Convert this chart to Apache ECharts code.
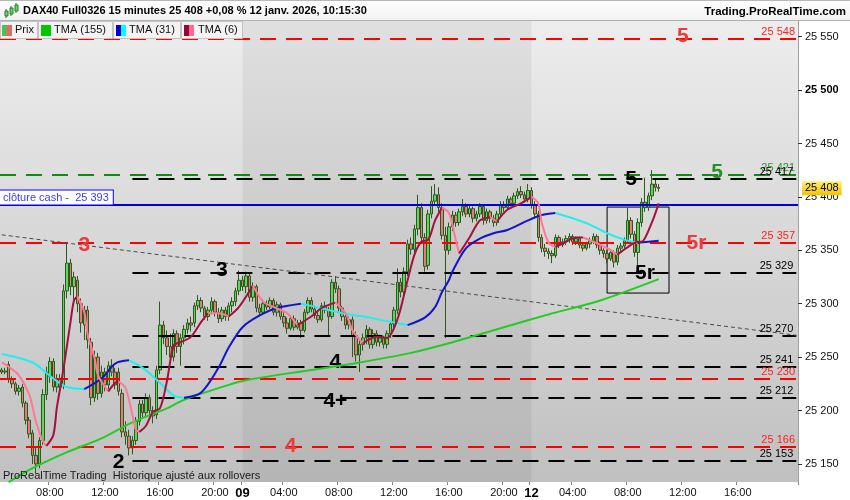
<!DOCTYPE html>
<html><head><meta charset="utf-8">
<script src="https://cdn.jsdelivr.net/npm/echarts@6.0.0/dist/echarts.min.js"></script>
<style>html,body{margin:0;padding:0;background:#fff}#c{width:850px;height:500px}</style>
</head><body><div id="c"></div>
<script>
// ---------- DATA ----------
const sessions = [['08','04:30','21:45'],['09','01:00','21:45'],['12','01:00','20:15']];
const tickLabels = ['08 08:00','08 12:00','08 16:00','08 20:00','09 01:00','09 04:00','09 08:00','09 12:00','09 16:00','09 20:00','12 01:00','12 04:00','12 08:00','12 12:00','12 16:00'];
const dayStarts = ['09 01:00','12 01:00'];
const yTicks = [25150,25200,25250,25300,25350,25400,25450,25500,25550];
const yMin = 25133.1, yMax = 25564.7;

// [open, close, low, high]
const jan8 = [
[25238,25236,25234,25240],[25236,25237,25234,25240],[25243,25229,25226,25246],[25229,25225,25221,25232],[25225,25218,25215,25227],
[25218,25221,25214,25224],[25222,25207,25203,25225],[25207,25191,25187,25209],[25191,25178,25174,25194],[25179,25158,25150,25182],
[25158,25150,25141,25166],[25150,25172,25146,25175],[25172,25215,25168,25220],[25215,25236,25210,25241],[25232,25246,25226,25250],
[25246,25222,25218,25249],[25222,25230,25217,25234],[25230,25222,25216,25234],[25224,25312,25220,25318],[25312,25338,25305,25357],
[25338,25316,25308,25342],[25316,25325,25302,25330],[25322,25300,25292,25326],[25300,25282,25273,25305],[25280,25294,25266,25298],
[25294,25266,25258,25298],[25264,25212,25205,25268],[25212,25250,25208,25256],[25250,25216,25210,25254],[25216,25236,25212,25242],
[25236,25224,25218,25240],[25224,25242,25220,25246],[25242,25236,25232,25248],[25236,25224,25220,25240],[25236,25218,25214,25240],
[25216,25180,25175,25220],[25180,25176,25168,25190],[25176,25165,25158,25182],[25165,25172,25159,25176],[25172,25190,25168,25194],
[25190,25206,25186,25210],[25206,25198,25194,25210],[25198,25212,25195,25216],[25212,25200,25196,25215],[25200,25195,25188,25204],
[25196,25238,25192,25242],[25238,25280,25234,25302],[25280,25268,25262,25284],[25268,25260,25252,25275],[25260,25250,25244,25272],
[25250,25272,25246,25276],[25272,25260,25254,25275],[25260,25268,25242,25272],[25268,25276,25262,25280],[25276,25282,25272,25286],
[25282,25280,25274,25288],[25282,25298,25278,25301],[25298,25303,25294,25308],[25303,25296,25292,25306],[25296,25288,25285,25298],
[25288,25294,25284,25297],[25294,25302,25290,25306],[25302,25292,25288,25304],[25292,25286,25282,25296],[25286,25294,25283,25297],
[25294,25288,25284,25297],[25288,25298,25284,25301],[25298,25302,25292,25306],[25302,25312,25298,25315],[25312,25322,25308,25331]
];
const jan9 = [
[25322,25316,25312,25326],[25316,25326,25310,25330],[25326,25306,25302,25328],[25306,25316,25302,25320],[25316,25296,25292,25318],
[25296,25292,25288,25300],[25292,25300,25290,25304],[25300,25297,25294,25303],[25297,25303,25295,25306],[25303,25292,25289,25305],
[25292,25299,25288,25302],[25299,25288,25285,25301],[25288,25282,25278,25292],[25282,25277,25272,25287],[25277,25286,25275,25289],
[25286,25278,25275,25289],[25278,25282,25276,25285],[25282,25275,25268,25285],[25275,25292,25273,25295],[25292,25303,25290,25306],
[25303,25295,25292,25306],[25295,25289,25286,25298],[25289,25285,25282,25293],[25285,25298,25283,25301],[25298,25294,25291,25302],
[25294,25288,25270,25297],[25288,25320,25286,25323],[25320,25314,25310,25326],[25314,25296,25293,25317],[25296,25288,25284,25298],
[25288,25280,25276,25292],[25280,25285,25276,25288],[25285,25270,25250,25288],[25270,25252,25246,25274],[25252,25262,25236,25266],
[25262,25268,25256,25272],[25268,25276,25262,25280],[25276,25262,25258,25278],[25262,25272,25258,25276],[25272,25264,25260,25275],
[25264,25268,25260,25271],[25268,25262,25258,25270],[25262,25272,25258,25275],[25272,25281,25268,25284],[25281,25294,25277,25297],
[25294,25320,25290,25333],[25320,25311,25306,25324],[25311,25330,25308,25334],[25330,25356,25326,25360],[25356,25351,25346,25362],
[25351,25370,25347,25374],[25370,25390,25364,25402],[25390,25362,25358,25394],[25362,25335,25330,25366],[25336,25384,25332,25388],
[25384,25396,25380,25410],[25396,25402,25392,25412],[25402,25390,25386,25409],[25390,25364,25360,25394],[25364,25350,25268,25372],
[25350,25372,25346,25376],[25372,25383,25368,25387],[25383,25376,25372,25386],[25376,25386,25373,25389],[25386,25391,25382,25398],
[25391,25384,25381,25394],[25384,25389,25381,25392],[25389,25380,25376,25391],[25380,25384,25377,25387],[25384,25391,25381,25394],
[25391,25378,25374,25393],[25378,25386,25375,25389],[25386,25380,25376,25388],[25380,25376,25372,25383],[25376,25384,25373,25387],
[25384,25393,25380,25396],[25393,25390,25386,25396],[25390,25398,25387,25401],[25398,25394,25391,25400],[25394,25401,25391,25404],
[25401,25405,25398,25408],[25405,25402,25399,25410],[25402,25398,25395,25405],[25398,25406,25395,25412]
];
const jan12 = [
[25406,25393,25389,25409],[25393,25384,25380,25396],[25384,25362,25358,25387],[25362,25352,25348,25365],[25352,25349,25344,25356],
[25349,25347,25342,25352],[25347,25345,25338,25350],[25345,25362,25343,25365],[25362,25355,25352,25364],[25355,25358,25353,25361],
[25358,25361,25355,25364],[25361,25363,25357,25366],[25363,25358,25355,25365],[25358,25361,25355,25363],[25361,25355,25352,25363],
[25355,25352,25349,25358],[25352,25356,25350,25358],[25356,25359,25352,25362],[25359,25363,25356,25366],[25363,25355,25352,25365],
[25355,25350,25346,25358],[25350,25347,25343,25352],[25347,25342,25338,25350],[25342,25348,25340,25351],[25348,25339,25334,25350],
[25339,25352,25336,25355],[25352,25354,25348,25357],[25354,25359,25351,25362],[25359,25378,25356,25390],[25378,25365,25361,25381],
[25365,25348,25344,25368],[25348,25376,25330,25380],[25376,25395,25372,25399],[25395,25390,25386,25418],[25390,25401,25387,25404],
[25401,25412,25397,25425],[25412,25409,25405,25416],[25409,25408,25405,25412]
];

const tma155 = [[2,25133],[9,25146],[19,25161],[29,25174],[38,25189],[48,25202],[53,25210],[66,25224],[72,25229],[90,25238],[104,25245],[119,25254],[130,25263],[145,25277],[159,25290],[174,25303],[191,25323]];

const tma31Segs = [
 {up:false, pts:[[0,25253],[9,25245],[15,25230],[19,25222],[24,25220]]},
 {up:true,  pts:[[24,25220],[29,25230],[33,25244],[37,25247]]},
 {up:false, pts:[[37,25247],[41,25240],[46,25226],[50,25214],[53,25212]]},
 {up:true,  pts:[[53,25212],[58,25217],[63,25240],[66,25259],[70,25278],[75,25289],[80,25296],[87,25300]]},
 {up:false, pts:[[87,25300],[90,25298],[99,25291],[107,25287],[113,25283],[118,25280]]},
 {up:true,  pts:[[118,25280],[123,25287],[126,25297],[128,25311],[130,25322],[131,25330],[135,25352],[139,25361],[143,25366],[147,25369],[153,25378],[157,25383],[161,25385]]},
 {up:false, pts:[[161,25385],[166,25380],[171,25374],[176,25366],[181,25360],[185,25357]]},
 {up:true,  pts:[[185,25357],[191,25359]]}
];

const tma6Segs = [
 {up:false, pts:[[0,25245],[2,25241],[5,25233],[8,25215],[10,25189],[12,25171],[13,25167]]},
 {up:true,  pts:[[13,25167],[15,25177],[16,25202],[18,25240],[20,25283],[21,25303],[22,25307]]},
 {up:false, pts:[[22,25307],[24,25292],[25,25271],[27,25249],[28,25233],[31,25218]]},
 {up:true,  pts:[[31,25218],[33,25226],[34,25227]]},
 {up:false, pts:[[34,25227],[36,25221],[38,25196],[39,25182],[40,25180]]},
 {up:true,  pts:[[40,25180],[42,25186],[44,25199],[46,25202],[48,25227],[50,25261],[52,25264],[55,25269],[58,25283],[60,25291]]},
 {up:false, pts:[[60,25291],[63,25291],[66,25288]]},
 {up:true,  pts:[[66,25288],[69,25297],[73,25317]]},
 {up:false, pts:[[73,25317],[76,25302],[79,25297],[83,25291],[86,25280]]},
 {up:true,  pts:[[86,25280],[90,25288],[93,25296],[97,25301]]},
 {up:false, pts:[[97,25301],[100,25291],[102,25275],[105,25263]]},
 {up:true,  pts:[[105,25263],[109,25269],[112,25268],[115,25285],[118,25322],[120,25346],[122,25358],[124,25360],[126,25378],[128,25390]]},
 {up:false, pts:[[128,25390],[130,25385],[132,25360],[133,25347]]},
 {up:true,  pts:[[133,25347],[136,25362],[139,25378],[142,25381]]},
 {up:false, pts:[[142,25381],[144,25377]]},
 {up:true,  pts:[[144,25377],[147,25388],[151,25394],[154,25400]]},
 {up:false, pts:[[154,25400],[156,25394],[157,25376],[159,25357],[161,25353]]},
 {up:true,  pts:[[161,25353],[164,25358],[167,25362],[169,25362]]},
 {up:false, pts:[[169,25362],[172,25358],[176,25352],[179,25346]]},
 {up:true,  pts:[[179,25346],[182,25353],[185,25358],[186,25358],[189,25376],[191,25394]]}
];

// [value, colour key, start category index]
const levels = [[25548,'red',0],[25421,'green',0],[25417,'black',38],[25357,'red',0],[25329,'black',38],[25270,'black',38],[25241,'black',38],[25230,'red',0],[25212,'black',38],[25166,'red',0],[25153,'black',38]];
const cashClose = 25393;
const lastPrice = 25408;
const trendLine = [[0,25364.5],[231,25270.5]];
const boxArea = [[176,25390.5],[194,25310]];
const jan9Band = [70,154];
const annotations = [
 ['5',198,25550,'red'],['5',208,25423,'green'],['5',183,25417,'black'],['3',24,25355,'red'],['3',64,25331,'black'],
 ['5r',202,25357,'red'],['5r',187,25329,'black'],['4',97,25245,'black'],['4+',97,25209,'black'],['4',84,25167,'red'],['2',34,25152,'black']
];

// ---------- BUILD ----------
function mins(t){const p=t.split(':').map(Number);return p[0]*60+p[1];}
function hhmm(m){return String(Math.floor(m/60)).padStart(2,'0')+':'+String(m%60).padStart(2,'0');}
const categories=[];
sessions.forEach(([d,s,e])=>{for(let m=mins(s);m<=mins(e);m+=15)categories.push(d+' '+hhmm(m));});
const tickSet=new Set(tickLabels);
const candles=jan8.concat(jan9,jan12);
function fmt(v){const s=String(Math.round(v));return s.slice(0,s.length-3)+' '+s.slice(-3);}

const FONT='"Liberation Sans", Arial, sans-serif';
const lineCol={red:'#ff0000',green:'#118c11',black:'#000000'};
const txtCol={red:'#ff1f1f',green:'#2a952a',black:'#000000'};
const annCol={red:'#ec3b3b',green:'#2a8e2a',black:'#000000'};

const markLines=[];
levels.forEach(([v,c,start])=>{
  const ls={color:lineCol[c],width:2,type:[16,10]};
  const lb={show:true,position:'insideEndTop',formatter:fmt(v),color:txtCol[c],fontSize:11,fontFamily:FONT,distance:[3,1]};
  if(start===0) markLines.push({yAxis:v,lineStyle:ls,label:lb});
  else markLines.push([{coord:[start,v],lineStyle:ls,label:lb},{coord:[categories.length-1,v],lineStyle:ls,label:lb}]);
});
markLines.push({yAxis:cashClose,lineStyle:{color:'#0000e6',width:2,type:'solid'},
  label:{show:true,position:'insideStartTop',formatter:'clôture cash -  '+fmt(cashClose),color:'#3a3aff',fontSize:11,fontFamily:FONT,
  backgroundColor:'#ffffff',borderColor:'#0000ff',borderWidth:1,padding:[2,4,1,3],distance:[0,0]}});
markLines.push([{coord:trendLine[0],lineStyle:{color:'#4a4a4a',width:1,type:[4,3]},label:{show:false}},{coord:trendLine[1],lineStyle:{color:'#4a4a4a',width:1,type:[4,3]},label:{show:false}}]);

const series=[];
series.push({type:'line',data:[],z:1,silent:true,
  markArea:{silent:true,data:[[{xAxis:jan9Band[0],itemStyle:{color:'rgba(0,0,0,0.055)'}},{xAxis:jan9Band[1]}]]}});
series.push({type:'candlestick',data:candles,barWidth:3,z:3,
  itemStyle:{color:'#5cd65c',color0:'#e77b7b',borderColor:'#2c5a1c',borderColor0:'#2c5a1c',borderWidth:1},
  markLine:{silent:true,symbol:['none','none'],animation:false,data:markLines}});
series.push({type:'line',data:tma155,showSymbol:false,smooth:0.3,z:6,lineStyle:{color:'#22cc22',width:2},silent:true});
tma31Segs.forEach(s=>series.push({type:'line',data:s.pts,showSymbol:false,smooth:0.3,z:6,silent:true,lineStyle:{color:s.up?'#1414c8':'#22eeee',width:2}}));
tma6Segs.forEach(s=>series.push({type:'line',data:s.pts,showSymbol:false,smooth:0.3,z:7,silent:true,lineStyle:{color:s.up?'#a3123f':'#ff7896',width:2}}));
series.push({type:'line',data:[],z:8,silent:true,
  markArea:{silent:true,data:[[{coord:boxArea[0],itemStyle:{color:'rgba(0,0,0,0)',borderColor:'#000',borderWidth:1}},{coord:boxArea[1]}]]}});
series.push({type:'line',data:tma155,z:9,silent:true,lineStyle:{opacity:0},showSymbol:false,
  markPoint:{silent:true,symbol:'circle',symbolSize:1,itemStyle:{color:'rgba(0,0,0,0)'},
  data:annotations.map(([t,i,v,c])=>({name:t,coord:[i,v],label:{show:true,position:'inside',formatter:'{b}',color:annCol[c],fontSize:21,fontWeight:'bold',fontFamily:FONT}}))}});
// last price tag on the axis (not clipped)
series.push({type:'line',data:[[candles.length-1,lastPrice]],z:20,clip:false,silent:true,showSymbol:false,lineStyle:{opacity:0},
  markLine:{silent:true,symbol:['none','none'],clip:false,animation:false,
    data:[{yAxis:lastPrice,lineStyle:{color:'rgba(0,0,0,0)',width:1,type:'solid'},
      label:{show:true,position:'end',distance:4,formatter:fmt(lastPrice),color:'#000',fontSize:11,fontFamily:FONT,padding:[2,3,1,3],
      backgroundColor:new echarts.graphic.LinearGradient(0,0,0,1,[{offset:0,color:'#fff06a'},{offset:1,color:'#f2c200'}])}}]}});

function swatch(x,c1,c2){return [{type:'rect',shape:{x:x,y:25,width:5,height:11},style:{fill:c1},z:101},{type:'rect',shape:{x:x+5,y:25,width:5,height:11},style:{fill:c2},z:101}];}
function tab(x,w){return {type:'rect',shape:{x:x+0.5,y:21.5,width:w,height:17},style:{fill:'#f3f3f3',stroke:'#c3c3c3',lineWidth:1},z:100};}
function ttext(x,t){return {type:'text',x:x,y:30,style:{text:t,font:'11px '+FONT,fill:'#111',verticalAlign:'middle'},z:102};}

const graphics=[
 {type:'rect',shape:{x:0,y:21,width:798,height:461},style:{fill:new echarts.graphic.LinearGradient(0,0,0,1,[{offset:0,color:'#ededed'},{offset:1,color:'#c0c0c0'}])},z:-100,silent:true},
 {type:'rect',shape:{x:0,y:0,width:850,height:21},style:{fill:new echarts.graphic.LinearGradient(0,0,0,1,[{offset:0,color:'#ffffff'},{offset:1,color:'#f1f1f1'}])},z:100},
 {type:'line',shape:{x1:0,y1:0.5,x2:850,y2:0.5},style:{stroke:'#b8b8b8',lineWidth:1},z:101},
 {type:'line',shape:{x1:0,y1:20.5,x2:850,y2:20.5},style:{stroke:'#b0b0b0',lineWidth:1},z:101},
 {type:'line',shape:{x1:6,y1:9,x2:6,y2:18},style:{stroke:'#2a7a2a',lineWidth:1},z:101},
 {type:'rect',shape:{x:5,y:11,width:3,height:5},style:{fill:'#6ad36a',stroke:'#2a7a2a',lineWidth:1},z:102},
 {type:'line',shape:{x1:11,y1:6,x2:11,y2:16},style:{stroke:'#2a7a2a',lineWidth:1},z:101},
 {type:'rect',shape:{x:10,y:8,width:3,height:6},style:{fill:'#6ad36a',stroke:'#2a7a2a',lineWidth:1},z:102},
 {type:'line',shape:{x1:16,y1:3,x2:16,y2:13},style:{stroke:'#2a7a2a',lineWidth:1},z:101},
 {type:'rect',shape:{x:15,y:5,width:3,height:6},style:{fill:'#6ad36a',stroke:'#2a7a2a',lineWidth:1},z:102},
 {type:'text',x:23,y:11,style:{text:'DAX40 Full0326 15 minutes 25 408 +0,08 % 12 janv. 2026, 10:15:30',font:'bold 11px '+FONT,fill:'#000',verticalAlign:'middle'},z:102},
 {type:'text',x:846,y:12,style:{text:'Trading.ProRealTime.com',font:'bold 11.5px '+FONT,fill:'#000',align:'right',verticalAlign:'middle'},z:102},
 tab(0,37),tab(38,74),tab(113,67),tab(181,61),
 ...swatch(2,'#55bb55','#e26a6a'),...swatch(41,'#00c800','#00c800'),...swatch(116,'#0000cc','#00ffff'),...swatch(184,'#a0003a','#ff6b91'),
 ttext(15,'Prix'),ttext(54,'TMA (155)'),ttext(129,'TMA (31)'),ttext(198,'TMA (6)'),
 {type:'text',x:3,y:476,style:{text:'ProRealTime Trading  Historique ajusté aux rollovers',font:'11px '+FONT,fill:'#1a1a1a',verticalAlign:'middle'},z:102}
];

const chart=echarts.init(document.getElementById('c'));
chart.setOption({
  animation:false,
  grid:{left:0,right:52,top:21,bottom:18},
  xAxis:{type:'category',data:categories,boundaryGap:true,
    axisLine:{show:false},
    axisTick:{show:true,interval:(i,v)=>tickSet.has(v),length:3,lineStyle:{color:'#888'}},
    axisLabel:{interval:(i,v)=>tickSet.has(v),margin:5,color:'#111',fontSize:11,fontFamily:FONT,
      formatter:v=>dayStarts.includes(v)?'{d|'+v.slice(0,2)+'}':v.slice(3),
      rich:{d:{fontWeight:'bold',fontSize:13,fontFamily:FONT,color:'#000'}}},
    splitLine:{show:false}},
  yAxis:{type:'value',position:'right',min:yMin,max:yMax,
    axisLine:{show:true,lineStyle:{color:'#a0a0a0'}},
    axisTick:{show:true,length:4,customValues:yTicks,lineStyle:{color:'#333'}},
    axisLabel:{customValues:yTicks,margin:7,color:'#111',fontSize:11,fontFamily:FONT,
      formatter:v=>v===25500?'{b|'+fmt(v)+'}':fmt(v),rich:{b:{fontWeight:'bold',fontSize:11,fontFamily:FONT,color:'#000'}}},
    splitLine:{show:false}},
  graphic:{elements:graphics},
  series:series
});
</script></body></html>
